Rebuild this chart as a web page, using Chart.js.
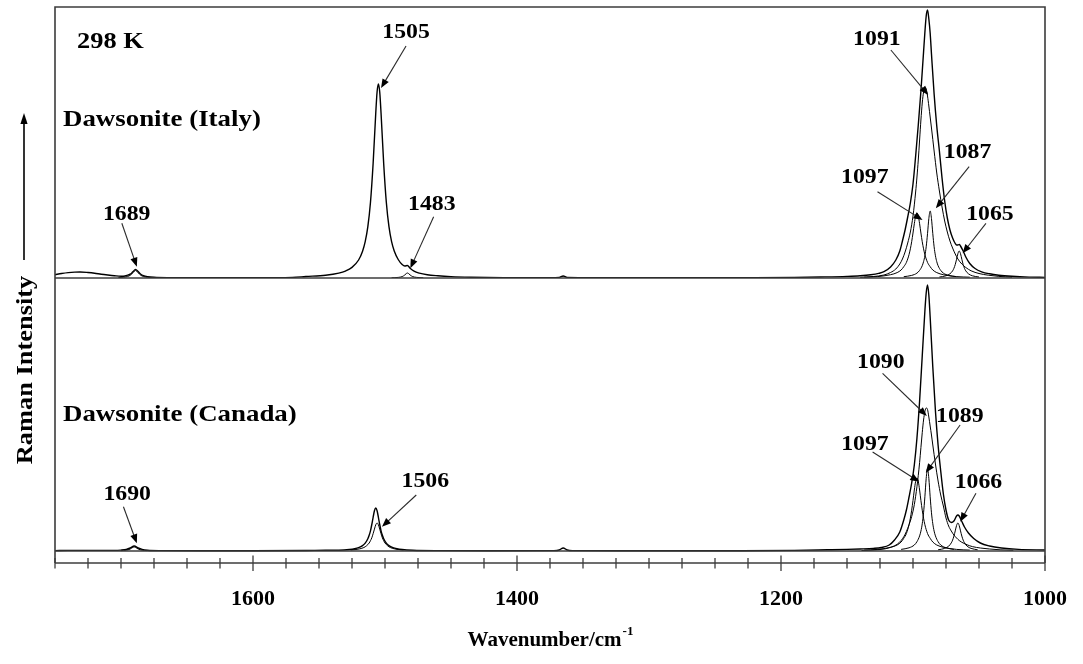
<!DOCTYPE html>
<html>
<head>
<meta charset="utf-8">
<title>Dawsonite Raman spectra 1750-1000 cm-1</title>
<script src="https://cdn.jsdelivr.net/npm/chart.js@4.4.1/dist/chart.umd.min.js"></script>
<style>
  html, body { margin: 0; padding: 0; background: #fff; }
  canvas { display: block; }
</style>
</head>
<body>
<canvas id="c" width="1083" height="664"></canvas>
<script>
// ---- Spectra: [wavenumber (cm-1), Raman intensity (arb. units)] ----

// Dawsonite (Italy), measured spectrum
const italyTotal = [
  [1750,3.3],[1745,4.5],[1740,5.4],[1735,5.9],[1731,6.0],[1725,5.5],[1720,4.8],[1715,3.8],[1710,3.0],
  [1705,2.3],[1700,1.8],[1697,2.0],[1695,2.8],[1693,3.8],[1691,6.2],[1689,8.6],[1687,6.4],[1685,3.8],
  [1683,2.4],[1680,1.4],[1675,0.7],[1665,0.3],[1640,0.2],[1600,0.2],[1570,0.6],[1560,1.5],[1545,2.8],
  [1535,4.9],[1530,6.9],[1525,10.6],[1520,18],[1517,26.8],[1515,36.3],[1513,51.3],[1511,75.7],[1509,114.5],
  [1507,165],[1506,186],[1505,194],[1504,186],[1503,165],[1501,114.5],[1499,75.7],[1497,51.3],[1495,36.3],
  [1493,27],[1490,18.5],[1487,13.5],[1485,12],[1483,12.5],[1481,9.8],[1478,6.8],[1474,4.8],[1468,3.2],
  [1460,2.2],[1450,1.4],[1435,0.8],[1410,0.4],[1375,0.3],[1368,0.6],[1365,2.0],[1362,0.6],[1340,0.3],
  [1280,0.2],[1220,0.3],[1190,0.6],[1170,1.0],[1150,1.6],[1140,2.2],[1132,3.2],[1126,4.6],[1122,6.3],
  [1117,11],[1113,18],[1110,27],[1108,37],[1106,48],[1104,61],[1102,75],[1100,94],[1098,122],[1096,153],
  [1094,187],[1092,226],[1090,262],[1089,268],[1088,259],[1087,245],[1086,224],[1084,184],[1082,152],
  [1080,127],[1078,100],[1076,77],[1074,60],[1072,48],[1070,40],[1068,34.5],[1067,33],[1066,33],[1065,33.5],
  [1064,32],[1062,27],[1060,21],[1057,14.5],[1053,9.5],[1048,6.2],[1042,4.2],[1035,2.8],[1025,1.7],
  [1012,0.9],[1000,0.6]
];

// Dawsonite (Italy), fitted band components
const italyBand1689 = [[1702,0.4],[1698,0.75],[1695,1.5],[1693,2.7],[1691,5.2],[1689,7.5],[1687,5.2],[1685,2.7],[1683,1.5],[1680,0.75],[1676,0.4]];
const italyBand1483 = [[1495,0.2],[1490,0.6],[1487,1.4],[1485,3.05],[1484,4.3],[1483,5],[1482,4.3],[1481,3.05],[1479,1.4],[1476,0.6],[1471,0.2]];
const italyBand1097 = [
  [1137,0.8],[1127,1.4],[1117,3.3],[1112,5.4],[1109,8],[1107,11.3],[1105,15.6],[1103,23.4],[1102,29.2],
  [1101,36.3],[1100,45],[1099,54.3],[1098,62],[1097,65],[1096,62],[1095,54.3],[1094,45],[1093,36.3],
  [1092,29.2],[1091,23.4],[1089,15.6],[1087,11.3],[1085,8],[1082,5.4],[1077,3.3],[1067,1.4],[1057,0.8]
];
const italyBand1091 = [
  [1140,0.7],[1130,1.5],[1122,3],[1117,5.5],[1113,9],[1110,14],[1108,19],[1106,26],[1104,35],[1102,46],
  [1100,62],[1098,86],[1097,101],[1096,118],[1095,138],[1094,158],[1093,175],[1092,186],[1091,191],
  [1090,189],[1089,182],[1088,172],[1087,161],[1086,150],[1084,127],[1082,105],[1080,87],[1078,71],
  [1076,57],[1074,46],[1072,37],[1070,30],[1068,24],[1066,19],[1063,14],[1060,10.5],[1056,7.2],[1050,4.5],
  [1043,2.8],[1035,1.6],[1025,0.9]
];
const italyBand1087 = [
  [1107,1.3],[1101,2.6],[1097,4.9],[1095,7.6],[1093,12.3],[1092,16.3],[1091,22.2],[1090,31.2],[1089,44.3],
  [1088,59.4],[1087,67],[1086,59.4],[1085,44.3],[1084,31.2],[1083,22.2],[1082,16.3],[1081,12.3],[1079,7.6],
  [1077,4.9],[1073,2.6],[1067,1.3]
];
const italyBand1065 = [
  [1080,1.0],[1075,2.2],[1072,4.2],[1070,7.1],[1069,9.7],[1068,13.5],[1067,18.7],[1066,24.3],[1065,27],
  [1064,24.3],[1063,18.7],[1062,13.5],[1061,9.7],[1060,7.1],[1058,4.2],[1055,2.2],[1050,1.0]
];

// Dawsonite (Canada), measured spectrum
const canadaTotal = [
  [1750,0.4],[1740,0.6],[1720,0.6],[1705,0.6],[1700,0.9],[1696,1.6],[1693,3.0],[1690,5.0],[1687,3.0],
  [1684,1.6],[1680,0.8],[1670,0.4],[1640,0.3],[1600,0.3],[1560,0.5],[1545,0.7],[1535,0.8],[1527,1.5],
  [1523,2.3],[1520,3.4],[1517,5.4],[1515,7.9],[1513,12.3],[1512,15.7],[1511,20.2],[1510,26.5],[1509,33.7],
  [1508,40.2],[1507,43],[1506,40.2],[1505,33.7],[1504,26.5],[1503,20.2],[1502,15.7],[1501,12.3],[1499,7.9],
  [1497,5.4],[1494,3.4],[1491,2.3],[1487,1.5],[1479,0.8],[1460,0.4],[1420,0.3],[1372,0.4],[1368,1.0],
  [1365,3.0],[1362,1.0],[1358,0.4],[1300,0.3],[1230,0.3],[1190,0.6],[1165,1.2],[1150,1.6],[1140,2.0],
  [1130,2.6],[1124,3.5],[1118,6],[1114,11],[1110,19],[1107,31],[1105,41],[1103,54],[1101,68],[1099,86],
  [1097,113],[1095,150],[1093,195],[1091,240],[1090,258],[1089,266],[1088,256],[1087,234],[1085,184],
  [1083,140],[1081,106],[1079,80],[1077,57],[1075,41],[1073,31],[1071,28.5],[1069,30],[1067,35],[1066,36],
  [1065,35],[1063,29.5],[1061,24],[1058,18],[1054,12.5],[1049,8],[1042,5],[1033,3],[1020,1.6],[1000,1.0]
];

// Dawsonite (Canada), fitted band components
const canadaBand1690 = [[1700,0.4],[1696,0.8],[1693,2.0],[1691,3.6],[1690,4.0],[1689,3.6],[1687,2.0],[1684,0.8],[1680,0.4]];
const canadaBand1506 = [
  [1526,1.0],[1522,1.5],[1519,2.2],[1516,3.5],[1514,5.2],[1512,8.0],[1511,10.3],[1510,13.2],[1509,17.3],
  [1508,21.9],[1507,26.2],[1506,28],[1505,26.2],[1504,21.9],[1503,17.3],[1502,13.2],[1501,10.3],[1500,8.0],
  [1498,5.2],[1496,3.5],[1493,2.2],[1490,1.5],[1486,1.0]
];
const canadaBand1097 = [
  [1137,0.9],[1127,1.6],[1117,3.7],[1112,6.0],[1109,9],[1107,12.7],[1105,17.5],[1103,26.3],[1102,32.8],
  [1101,40.8],[1100,50.5],[1099,61],[1098,69.6],[1097,73],[1096,69.6],[1095,61],[1094,50.5],[1093,40.8],
  [1092,32.8],[1091,26.3],[1089,17.5],[1087,12.7],[1085,9],[1082,6.0],[1077,3.7],[1067,1.6],[1057,0.9]
];
const canadaBand1090 = [
  [1139,0.5],[1129,1.1],[1121,2.2],[1116,4.1],[1112,6.7],[1109,10.5],[1107,14.2],[1105,19.5],[1103,26.2],
  [1101,34.5],[1099,46.4],[1097,64.4],[1096,75.6],[1095,88.4],[1094,103.4],[1093,118.3],[1092,131],
  [1091,139.3],[1090,143],[1089,141.5],[1088,134],[1087,125],[1086,116],[1085,106],[1083,87],[1081,70],
  [1079,56],[1077,45],[1075,33],[1073,25],[1071,20],[1069,16],[1067,13],[1065,10.5],[1062,8],[1059,6.2],
  [1055,4.4],[1049,3],[1042,2],[1034,1.2],[1024,0.7]
];
const canadaBand1089 = [
  [1109,1.6],[1103,3.2],[1099,6.0],[1097,9.3],[1095,15.1],[1094,19.9],[1093,27.2],[1092,38.2],[1091,54.2],
  [1090,72.7],[1089,82],[1088,72.7],[1087,54.2],[1086,38.2],[1085,27.2],[1084,19.9],[1083,15.1],[1081,9.3],
  [1079,6.0],[1075,3.2],[1069,1.6]
];
const canadaBand1066 = [
  [1081,1.2],[1076,2.6],[1073,4.8],[1071,8.1],[1070,10.9],[1069,14.9],[1068,20.1],[1067,25.5],[1066,28],
  [1065,25.5],[1064,20.1],[1063,14.9],[1062,10.9],[1061,8.1],[1059,4.8],[1056,2.6],[1051,1.2]
];

// Band-position callouts: label text and the spectrum point each arrow marks [cm-1, intensity]
const italyPeakLabels = ['1689', '1505', '1483', '1097', '1091', '1087', '1065'];
const italyPeakTips = [[1688,11.3],[1503,190],[1480.8,9.7],[1092.8,58],[1088.5,183],[1082.7,69.7],[1062.4,24.7]];
const canadaPeakLabels = ['1690', '1506', '1097', '1090', '1089', '1066'];
const canadaPeakTips = [[1688,7.7],[1502.3,24.3],[1095.3,69.3],[1089.5,135],[1090.3,78.3],[1064.2,29.3]];

// Axis range and tick spacing (cm-1)
const wnLow = 1000, wnHigh = 1750, tickStep = 25, labelStep = 200;

// ---- Drawing ----
const SERIF = '"Liberation Serif", "Times New Roman", Times, serif';

// callout geometry in px, relative to the arrow tip: [label dx, label dy, tail dx, tail dy]
const italyCallouts = [
  [-10.2,-46.7,-15,-43.4], [25,-50,25,-42], [21.5,-58.3,23.3,-51.6], [-57.7,-37,-45,-28.3],
  [-51.3,-50,-37.3,-45], [31.7,-50.3,33.3,-41.6], [27.3,-33.3,23.3,-30]
];
const canadaCallouts = [
  [-9.7,-43.3,-13.4,-36.6], [43.3,-39.7,34.3,-31.7], [-54.3,-31.7,-46.6,-29.7],
  [-46,-48,-44.3,-42.7], [34,-50.7,34.3,-47.7], [18.2,-33.7,15.7,-28.4]
];

function line(ctx, x0, y0, x1, y1) {
  ctx.beginPath(); ctx.moveTo(x0, y0); ctx.lineTo(x1, y1); ctx.stroke();
}
function text(ctx, s, x, y, size, align, stretch) {
  ctx.save();
  ctx.translate(x, y);
  ctx.scale(stretch, 1);
  ctx.font = 'bold ' + size + 'px ' + SERIF;
  ctx.textAlign = align;
  ctx.textBaseline = 'alphabetic';
  ctx.fillStyle = '#000';
  ctx.fillText(s, 0, 0);
  ctx.restore();
}
function arrow(ctx, x0, y0, x1, y1, head, half) {
  const a = Math.atan2(y1 - y0, x1 - x0);
  ctx.beginPath(); ctx.moveTo(x0, y0);
  ctx.lineTo(x1 - Math.cos(a) * head * 0.6, y1 - Math.sin(a) * head * 0.6);
  ctx.stroke();
  ctx.beginPath();
  ctx.moveTo(x1, y1);
  ctx.lineTo(x1 - Math.cos(a) * head - Math.sin(a) * half, y1 - Math.sin(a) * head + Math.cos(a) * half);
  ctx.lineTo(x1 - Math.cos(a) * head + Math.sin(a) * half, y1 - Math.sin(a) * head - Math.cos(a) * half);
  ctx.closePath(); ctx.fill();
}

const decor = {
  id: 'decor',
  afterDatasetsDraw(chart) {
    const { ctx, chartArea: area, scales } = chart;
    const xs = scales.x, yTop = scales.yTop, yBot = scales.yBot;
    const axisY = area.bottom;
    ctx.save();

    // frame, panel baselines and wavenumber axis
    ctx.strokeStyle = '#3c3c3c';
    ctx.lineWidth = 1.6;
    ctx.beginPath();
    ctx.moveTo(area.left, axisY); ctx.lineTo(area.left, area.top);
    ctx.lineTo(area.right, area.top); ctx.lineTo(area.right, axisY);
    ctx.stroke();
    [yTop, yBot].forEach(s => { const y = s.getPixelForValue(0); line(ctx, area.left, y, area.right, y); });
    line(ctx, area.left, axisY, area.right, axisY);
    ctx.lineWidth = 1.3;
    xs.ticks.forEach(t => {
      const px = xs.getPixelForValue(t.value);
      const major = t.value % labelStep === 0;
      line(ctx, px, axisY - (major ? 7.5 : 5), px, axisY + (major ? 8 : 5.5));
    });

    // panel captions
    text(ctx, '298 K', 77, 48, 24, 'left', 1.1);
    text(ctx, 'Dawsonite (Italy)', 63, 126, 24, 'left', 1.12);
    text(ctx, 'Dawsonite (Canada)', 63, 421, 24, 'left', 1.12);

    // band callouts
    ctx.strokeStyle = '#2a2a2a';
    ctx.fillStyle = '#000';
    ctx.lineWidth = 1.1;
    const callouts = (labels, tips, geom, ys) => {
      labels.forEach((lab, i) => {
        const tx = xs.getPixelForValue(tips[i][0]);
        const ty = ys.getPixelForValue(tips[i][1]);
        const g = geom[i];
        arrow(ctx, tx + g[2], ty + g[3], tx, ty, 9, 3.6);
        text(ctx, lab, tx + g[0], ty + g[1], 22, 'center', 1.08);
      });
    };
    callouts(italyPeakLabels, italyPeakTips, italyCallouts, yTop);
    callouts(canadaPeakLabels, canadaPeakTips, canadaCallouts, yBot);

    // intensity axis title with arrow
    ctx.save();
    ctx.translate(32, 370);
    ctx.rotate(-Math.PI / 2);
    ctx.scale(1.1, 1);
    ctx.font = 'bold 24px ' + SERIF;
    ctx.textAlign = 'center';
    ctx.textBaseline = 'alphabetic';
    ctx.fillStyle = '#000';
    ctx.fillText('Raman Intensity', 0, 0);
    ctx.restore();
    ctx.strokeStyle = '#000';
    ctx.lineWidth = 1.6;
    arrow(ctx, 24, 260, 24, 113, 11, 3.6);

    // wavenumber axis title with superscript
    ctx.font = 'bold 21px ' + SERIF;
    const main = 'Wavenumber/cm';
    const wMain = ctx.measureText(main).width;
    ctx.font = 'bold 13px ' + SERIF;
    const wSup = ctx.measureText('-1').width;
    const cx = (area.left + area.right) / 2;
    const x0 = cx - (wMain + wSup) / 2;
    text(ctx, main, x0, 646, 21, 'left', 1);
    text(ctx, '-1', x0 + wMain + 1, 635, 13, 'left', 1);

    ctx.restore();
  }
};

function series(points, axis, width) {
  return {
    data: points.map(p => ({ x: p[0], y: p[1] })),
    yAxisID: axis,
    borderColor: '#000',
    borderWidth: width,
    pointRadius: 0,
    fill: false,
    cubicInterpolationMode: 'monotone'
  };
}

const datasets = [
  series(italyBand1689, 'yTop', 1), series(italyBand1483, 'yTop', 1), series(italyBand1097, 'yTop', 1),
  series(italyBand1091, 'yTop', 1), series(italyBand1087, 'yTop', 1), series(italyBand1065, 'yTop', 1),
  series(italyTotal, 'yTop', 1.4),
  series(canadaBand1690, 'yBot', 1), series(canadaBand1506, 'yBot', 1), series(canadaBand1097, 'yBot', 1),
  series(canadaBand1090, 'yBot', 1), series(canadaBand1089, 'yBot', 1), series(canadaBand1066, 'yBot', 1),
  series(canadaTotal, 'yBot', 1.4)
];

const hiddenY = (extra) => Object.assign({
  type: 'linear',
  position: 'left',
  stack: 'panels',
  grid: { display: false, drawTicks: false },
  border: { display: false },
  ticks: { display: false },
  afterFit: s => { s.width = 0; }
}, extra);

new Chart(document.getElementById('c'), {
  type: 'line',
  data: { datasets },
  options: {
    responsive: false,
    devicePixelRatio: 1,
    animation: false,
    layout: { padding: { left: 55, right: 38, top: 7, bottom: 0 } },
    plugins: { legend: { display: false }, tooltip: { enabled: false } },
    scales: {
      x: {
        type: 'linear',
        position: 'bottom',
        reverse: true,
        min: wnLow,
        max: wnHigh,
        grid: { display: false, drawTicks: false },
        border: { display: false },
        afterFit: s => { s.height = 101; s.paddingLeft = 0; s.paddingRight = 0; },
        ticks: {
          stepSize: tickStep,
          autoSkip: false,
          maxRotation: 0,
          padding: 23,
          color: '#000',
          font: { family: SERIF, size: 22, weight: 'bold' },
          callback: v => (v % labelStep === 0 ? String(v) : '')
        }
      },
      // left-side stacked boxes are laid out last-declared first, so the lower panel comes first here
      yBot: hiddenY({ stackWeight: 285, min: -12, max: 273 }),
      yTop: hiddenY({ stackWeight: 271, min: 0, max: 271 })
    }
  },
  plugins: [decor]
});
</script>
</body>
</html>
